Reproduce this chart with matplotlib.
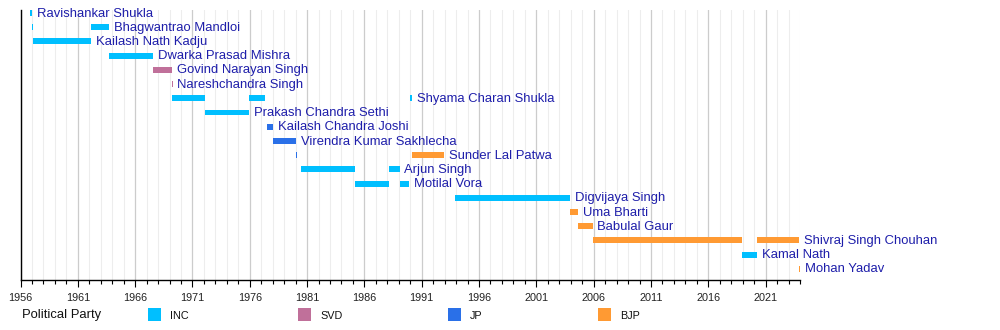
import matplotlib
matplotlib.use("Agg")
import matplotlib.pyplot as plt
from matplotlib.patches import Rectangle
from matplotlib.ticker import MultipleLocator, FixedLocator
import pandas as pd

plt.rcParams['font.family'] = ['Liberation Sans', 'DejaVu Sans']

# Chief Ministers of Madhya Pradesh, one entry per term in office
term_names = [
    "Ravishankar Shukla", "Bhagwantrao Mandloi", "Kailash Nath Kadju",
    "Bhagwantrao Mandloi", "Dwarka Prasad Mishra", "Govind Narayan Singh",
    "Nareshchandra Singh", "Shyama Charan Shukla", "Prakash Chandra Sethi",
    "Shyama Charan Shukla", "Kailash Chandra Joshi", "Virendra Kumar Sakhlecha",
    "Sunder Lal Patwa", "Arjun Singh", "Motilal Vora", "Arjun Singh",
    "Motilal Vora", "Shyama Charan Shukla", "Sunder Lal Patwa",
    "Digvijaya Singh", "Uma Bharti", "Babulal Gaur", "Shivraj Singh Chouhan",
    "Kamal Nath", "Shivraj Singh Chouhan", "Mohan Yadav",
]
term_parties = [
    "INC", "INC", "INC", "INC", "INC", "SVD", "SVD", "INC", "INC", "INC",
    "JP", "JP", "JP", "INC", "INC", "INC", "INC", "INC", "BJP", "INC",
    "BJP", "BJP", "BJP", "INC", "BJP", "BJP",
]
term_starts = [
    "1956-11-01", "1957-01-01", "1957-01-31", "1962-03-12", "1963-09-30",
    "1967-07-30", "1969-03-13", "1969-03-26", "1972-01-29", "1975-12-23",
    "1977-06-24", "1978-01-18", "1980-01-20", "1980-06-09", "1985-03-13",
    "1988-02-14", "1989-01-25", "1989-12-09", "1990-03-05", "1993-12-07",
    "2003-12-08", "2004-08-23", "2005-11-29", "2018-12-17", "2020-03-23",
    "2023-12-13",
]
term_ends = [
    "1956-12-31", "1957-01-30", "1962-03-11", "1963-09-29", "1967-07-29",
    "1969-03-12", "1969-03-25", "1972-01-28", "1975-12-22", "1977-04-29",
    "1978-01-17", "1980-01-19", "1980-02-17", "1985-03-12", "1988-02-13",
    "1989-01-24", "1989-12-08", "1990-03-04", "1992-12-15", "2003-12-08",
    "2004-08-23", "2005-11-29", "2018-12-17", "2020-03-23", "2023-12-13",
    "2024-01-01",
]

parties = ["INC", "SVD", "JP", "BJP"]
party_colors = ["#00BFFF", "#C0709A", "#2A70E8", "#FF9A33"]
color_of = dict(zip(parties, party_colors))

year_ticks = list(range(1956, 2022, 5))
x_min, x_max = 1956.0, 2024.0


def to_year(s):
    d = pd.Timestamp(s)
    start = pd.Timestamp(year=d.year, month=1, day=1)
    length = pd.Timestamp(year=d.year + 1, month=1, day=1) - start
    return d.year + (d - start) / length


starts = [to_year(s) for s in term_starts]
ends = [to_year(s) for s in term_ends]

# rows in order of first appearance
row_names = []
for n in term_names:
    if n not in row_names:
        row_names.append(n)
row_of = {n: i for i, n in enumerate(row_names)}

fig = plt.figure(figsize=(10, 3.3), dpi=100)
ax = fig.add_axes([0.0205, 0.1515, 0.7795, 0.8182])

bar_h = 0.42
for name, party, s, e in zip(term_names, term_parties, starts, ends):
    ax.barh(row_of[name], max(e - s, 0.08), left=s, height=bar_h,
            color=color_of[party], linewidth=0, zorder=3)

# name label after each person's final bar
for name in row_names:
    last_end = max(e for n, e in zip(term_names, ends) if n == name)
    ax.annotate(name, xy=(last_end, row_of[name] + 0.04), xytext=(3.5, 0),
                textcoords="offset points", va="center", ha="left",
                fontsize=9.4, color="#1E1EAA", annotation_clip=False, zorder=4)

ax.set_xlim(x_min, x_max)
ax.set_ylim(18.78, -0.21)
ax.xaxis.set_major_locator(FixedLocator(year_ticks))
ax.xaxis.set_minor_locator(MultipleLocator(1))
ax.set_xticklabels([str(y) for y in year_ticks], fontsize=7.8, color="#222222")
ax.tick_params(axis="x", which="major", length=5, width=0.8, direction="out", pad=4)
ax.tick_params(axis="x", which="minor", length=3, width=0.8, direction="out")
ax.set_yticks([])
ax.grid(axis="x", which="major", color="#CCCCCC", linewidth=0.9, zorder=0)
ax.grid(axis="x", which="minor", color="#EDEDED", linewidth=0.8, zorder=0)
ax.set_axisbelow(True)
for side in ("top", "right"):
    ax.spines[side].set_visible(False)
for side in ("left", "bottom"):
    ax.spines[side].set_color("black")
    ax.spines[side].set_linewidth(1.0)

# party legend along the bottom
W, H = 1000.0, 330.0
fig.text(22 / W, 1 - 315 / H, "Political Party", fontsize=9.4, va="center",
         ha="left", color="#111111")
swatch_x = [148, 298, 448, 598]
for px, party, col in zip(swatch_x, parties, party_colors):
    fig.add_artist(Rectangle((px / W, 1 - 321 / H), 13 / W, 13 / H,
                             transform=fig.transFigure, color=col, lw=0))
    fig.text((px + 22) / W, 1 - 316 / H, party, fontsize=7.8, va="center",
             ha="left", color="#111111")

fig.savefig("out.png", dpi=100)
